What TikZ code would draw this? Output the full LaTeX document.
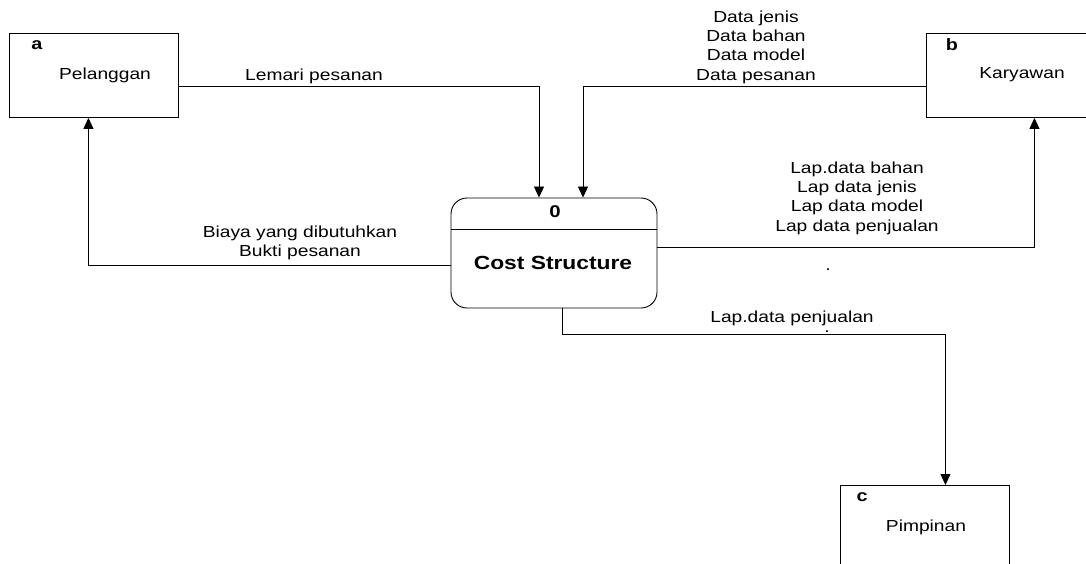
\documentclass[tikz,border=0pt]{standalone}
\usepackage{fontspec}
\usetikzlibrary{arrows.meta}
\newfontfamily\arialw[FakeStretch=1.2]{Liberation Sans}
\begin{document}
\begin{tikzpicture}[x=1pt,y=-1pt,
  entity/.style={draw, line width=0.9pt, anchor=north west, inner sep=0pt},
  lbl/.style={font=\arialw\fontsize{16}{19.3}\selectfont, inner sep=0pt, align=center},
  tag/.style={font=\arialw\bfseries\fontsize{16.5}{19}\selectfont, inner sep=0pt},
  flow/.style={line width=0.9pt, -{Triangle[length=11pt,width=10pt]}}]
\useasboundingbox (0,0) rectangle (1086,564);
\clip (0,0) rectangle (1086,564);
% entities
\node[entity, minimum width=169pt, minimum height=84pt] (pel) at (9,33) {};
\node[tag] (pela) at (37,45) {a};
\node[lbl] (pelt) at (105,75) {Pelanggan};
\node[entity, minimum width=180pt, minimum height=84pt] (kar) at (926,33) {};
\node[tag] (karb) at (952,45) {b};
\node[lbl] (kart) at (1022,75) {Karyawan};
\node[entity, minimum width=169pt, minimum height=110pt] (pim) at (840,485) {};
\node[tag] (pimc) at (862,497) {c};
\node[lbl] (pimt) at (926,527) {Pimpinan};
% process
\node[draw, line width=0.9pt, rounded corners=16pt, minimum width=206pt, minimum height=110pt, inner sep=0pt] (proc) at (554,253) {};
\draw[line width=0.9pt] (proc.west |- 0,229) -- (proc.east |- 0,229);
\node[font=\arialw\bfseries\fontsize{17}{20}\selectfont, inner sep=0pt] (pnum) at (555,212) {0};
\node[font=\arialw\bfseries\fontsize{19}{22}\selectfont, inner sep=0pt] (pname) at (553,263) {Cost Structure};
% flows
\draw[flow] ([yshift=-11pt]pel.east) -| ([xshift=-15pt]proc.north);
\draw[flow] ([yshift=-11pt]kar.west) -| ([xshift=29pt]proc.north);
\draw[flow] ([yshift=6pt]proc.east) -| ([xshift=18pt]kar.south);
\draw[flow] ([yshift=-12pt]proc.west) -| ([xshift=-5.5pt]pel.south);
\draw[flow] ([xshift=8pt]proc.south) -- ++(0,26) -| ([xshift=20.5pt]pim.north);
% labels
\node[lbl] (l1) at (314,76) {Lemari pesanan};
\node[lbl] (l2) at (756,47) {Data jenis\\Data bahan\\Data model\\Data pesanan};
\node[lbl] (l3) at (857,198) {Lap.data bahan\\Lap data jenis\\Lap data model\\Lap data penjualan};
\node[lbl] (l4) at (300,243) {Biaya yang dibutuhkan\\Bukti pesanan};
\node[lbl] (l5) at (792,318) {Lap.data penjualan};
\node[lbl] (d1) at (828,270) {.};
\node[lbl] (d2) at (827,332) {.};
\end{tikzpicture}
\end{document}
